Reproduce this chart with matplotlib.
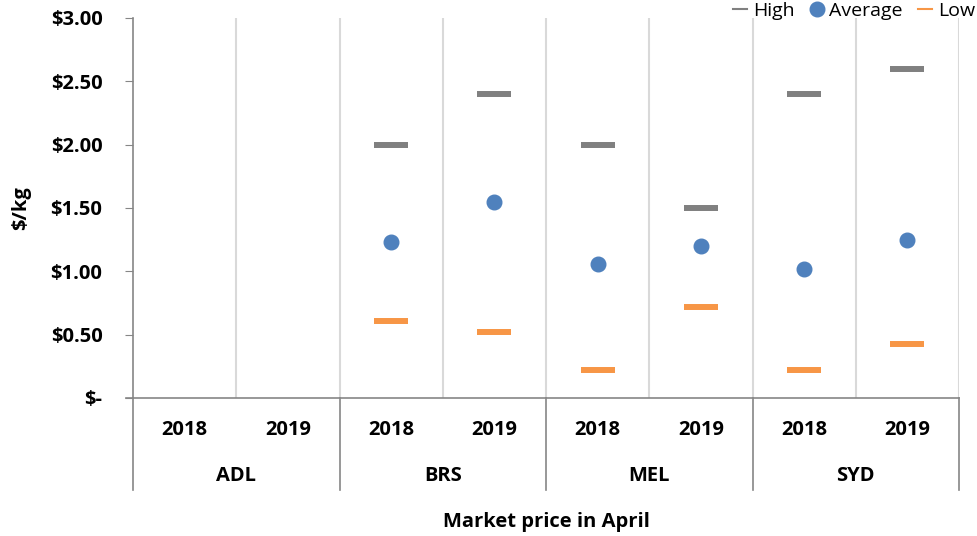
import matplotlib
matplotlib.use("Agg")
import matplotlib.pyplot as plt
from matplotlib.lines import Line2D
from matplotlib.transforms import blended_transform_factory
import numpy as np

cities = ["ADL", "BRS", "MEL", "SYD"]
years = ["2018", "2019"]
high = [np.nan, np.nan, 2.00, 2.40, 2.00, 1.50, 2.40, 2.60]
average = [np.nan, np.nan, 1.23, 1.55, 1.06, 1.20, 1.02, 1.25]
low = [np.nan, np.nan, 0.61, 0.52, 0.22, 0.72, 0.22, 0.43]
yticks = [0, 0.5, 1.0, 1.5, 2.0, 2.5, 3.0]
ytick_labels = ["$-", "$0.50", "$1.00", "$1.50", "$2.00", "$2.50", "$3.00"]

FONT = "Open Sans"
FS = 14.5
GREY = "#808080"
BLUE = "#4f81bd"
ORANGE = "#f79646"
GRID = "#d9d9d9"
AXC = "#868686"

fig = plt.figure(figsize=(9.77, 5.36), dpi=100)
ax = fig.add_axes([133/977, 1-398/536, (959-133)/977, 380/536])

n = len(high)
x = np.arange(n)
ax.plot(x, high, linestyle="none", marker="_", markersize=24, markeredgewidth=4.3, color=GREY)
ax.plot(x, average, linestyle="none", marker="o", markersize=10.5, color=BLUE)
ax.plot(x, low, linestyle="none", marker="_", markersize=24, markeredgewidth=4.3, color=ORANGE)

ax.set_xlim(-0.5, n - 0.5)
ax.set_ylim(0, 3.0)
for b in np.arange(0.5, n, 1.0):
    ax.axvline(b, color=GRID, lw=1.5, zorder=0)

for s in ["top", "right"]:
    ax.spines[s].set_visible(False)
ax.spines["left"].set_color(AXC)
ax.spines["bottom"].set_color(AXC)
ax.spines["left"].set_linewidth(1.2)
ax.spines["bottom"].set_linewidth(1.2)

ax.set_yticks(yticks)
ax.set_yticklabels(ytick_labels, fontfamily=FONT, fontweight="bold", fontsize=FS)
ax.tick_params(axis="y", length=6, color=AXC, pad=16)
ax.set_xticks([])

# multi-level category labels
tr = blended_transform_factory(ax.transData, ax.transAxes)
for i in range(n):
    ax.text(i, -0.084, years[i % 2], transform=tr, ha="center", va="center",
            fontfamily=FONT, fontweight="bold", fontsize=FS)
for j, c in enumerate(cities):
    ax.text(2*j + 0.5, -0.205, c, transform=tr, ha="center", va="center",
            fontfamily=FONT, fontweight="bold", fontsize=FS)
for b in [-0.5, 1.5, 3.5, 5.5, 7.5]:
    ax.add_line(Line2D([b, b], [0, -0.242], transform=tr, color=AXC, lw=1.2, clip_on=False))
ax.add_line(Line2D([-0.5 - 0.07, -0.5], [0, 0], transform=tr, color=AXC, lw=1.2, clip_on=False))

ax.set_ylabel("$/kg", fontfamily=FONT, fontweight="bold", fontsize=FS)
ax.yaxis.set_label_coords((31 - 133) / 826, 0.5)
fig.text((133+959)/2/977, 1-522/536, "Market price in April", ha="center", va="center",
         fontfamily=FONT, fontweight="bold", fontsize=FS)

handles = [
    Line2D([], [], color=GREY, lw=1.5),
    Line2D([], [], color=BLUE, marker="o", markersize=10.5, linestyle="none"),
    Line2D([], [], color=ORANGE, lw=1.5),
]
leg = fig.legend(handles, ["High", "Average", "Low"], loc="upper right",
                 bbox_to_anchor=(1.0, 1.0), ncol=3, frameon=False,
                 prop={"family": FONT, "size": 14}, handlelength=0.7,
                 handletextpad=0.3, columnspacing=0.8, borderaxespad=0.0,
                 borderpad=0.1)

fig.savefig("out.png", dpi=100)
